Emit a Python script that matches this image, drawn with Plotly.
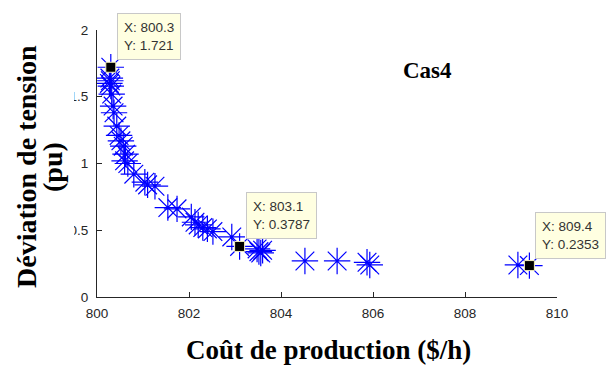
import plotly.graph_objects as go

# Production cost ($/h) vs. voltage deviation (pu) for the Pareto front, case 4
cost = [800.30, 800.28, 800.29, 800.27, 800.30, 800.32, 800.35, 800.37, 800.43,
        800.48, 800.52, 800.57, 800.62, 800.60, 800.67, 800.80, 801.04, 801.10,
        801.26, 801.54, 801.74, 802.05, 802.13, 802.20, 802.30, 802.40, 802.52,
        802.93, 803.10, 803.48, 803.52, 803.56, 803.60, 804.52, 805.22, 805.87,
        805.93, 809.15, 809.40]
deviation = [1.721, 1.64, 1.62, 1.60, 1.58, 1.52, 1.43, 1.38, 1.28,
             1.21, 1.17, 1.13, 1.07, 1.02, 1.00, 0.92, 0.86, 0.84,
             0.83, 0.67, 0.66, 0.60, 0.56, 0.54, 0.52, 0.51, 0.49,
             0.45, 0.3787, 0.36, 0.34, 0.33, 0.35, 0.27, 0.27, 0.26,
             0.24, 0.24, 0.2353]

# Points carrying a data tip
tip_x = [800.3, 803.1, 809.4]
tip_y = [1.721, 0.3787, 0.2353]

x_ticks = [800, 802, 804, 806, 808, 810]
y_ticks = [0, 0.5, 1, 1.5, 2]
y_tick_text = ["0", "0.5", "1", "1.5", "2"]

axis_color = "#262626"
serif = "Liberation Serif, Times New Roman, serif"
sans = "Arial, Liberation Sans, sans-serif"

# Figure and plot-area geometry (pixels)
W, H = 607, 367
L, R, T, B = 97, 50, 30, 70
pw, ph = W - L - R, H - T - B


def px_x(p):
    """Horizontal pixel position -> paper fraction."""
    return (p - L) / pw


def px_y(p):
    """Vertical pixel position (from top) -> paper fraction."""
    return 1 - (p - T) / ph


fig = go.Figure()

fig.add_trace(go.Scatter(
    x=cost, y=deviation, mode="markers",
    marker=dict(symbol="asterisk-open", size=22, color="#0000ff",
                line=dict(color="#0000ff", width=1.2)),
    showlegend=False, hoverinfo="skip",
))

fig.add_trace(go.Scatter(
    x=tip_x, y=tip_y, mode="markers",
    marker=dict(symbol="square", size=10, color="black",
                line=dict(color="#f4f0c0", width=1)),
    showlegend=False, hoverinfo="skip",
))

annotations = []
for tx, ty in zip(tip_x, tip_y):
    annotations.append(dict(
        x=tx, y=ty, xref="x", yref="y", showarrow=False,
        xanchor="left", yanchor="bottom", xshift=6, yshift=7,
        text=f"X: {tx:g}<br>Y: {ty:g}", align="left",
        font=dict(family=sans, size=13.5, color="#333333"),
        bgcolor="#ffffe1", bordercolor="#c8c8c8", borderwidth=1, borderpad=6,
    ))

annotations.append(dict(
    x=px_x(427), y=px_y(71), xref="paper", yref="paper", showarrow=False,
    xanchor="center", yanchor="middle",
    text="<b>Cas4</b>", font=dict(family=serif, size=23, color="black"),
))

# Axis titles
annotations.append(dict(
    x=px_x(328), y=px_y(350), xref="paper", yref="paper", showarrow=False,
    xanchor="center", yanchor="middle",
    text="<b>Coût de production ($/h)</b>",
    font=dict(family=serif, size=27, color="black"),
))
for line, cx in (("Déviation de tension", 26), ("(pu)", 52)):
    annotations.append(dict(
        x=px_x(cx), y=px_y(167), xref="paper", yref="paper", showarrow=False,
        xanchor="center", yanchor="middle", textangle=-90,
        text=f"<b>{line}</b>",
        font=dict(family=serif, size=28, color="black"),
    ))

fig.update_layout(
    width=W, height=H,
    margin=dict(l=L, r=R, t=T, b=B),
    paper_bgcolor="white", plot_bgcolor="white",
    annotations=annotations,
    # white band behind the y-axis title, overlapping the tick labels
    shapes=[dict(
        type="rect", xref="paper", yref="paper", layer="above",
        x0=px_x(4), x1=px_x(74), y0=px_y(300), y1=px_y(32),
        fillcolor="white", line=dict(width=0),
    )],
)

fig.update_xaxes(
    range=[800, 810], tickvals=x_ticks, ticks="inside", ticklen=5,
    tickcolor=axis_color, showline=True, linecolor=axis_color, linewidth=1,
    showgrid=False, zeroline=False, mirror=False, ticklabelstandoff=4,
    tickfont=dict(family=sans, size=13.5, color=axis_color),
)
fig.update_yaxes(
    range=[0, 2], tickvals=y_ticks, ticktext=y_tick_text, ticks="inside", ticklen=5,
    tickcolor=axis_color, showline=True, linecolor=axis_color, linewidth=1,
    showgrid=False, zeroline=False, mirror=False, ticklabelstandoff=5,
    tickfont=dict(family=sans, size=13.5, color=axis_color),
)

fig.write_html("out.html")
